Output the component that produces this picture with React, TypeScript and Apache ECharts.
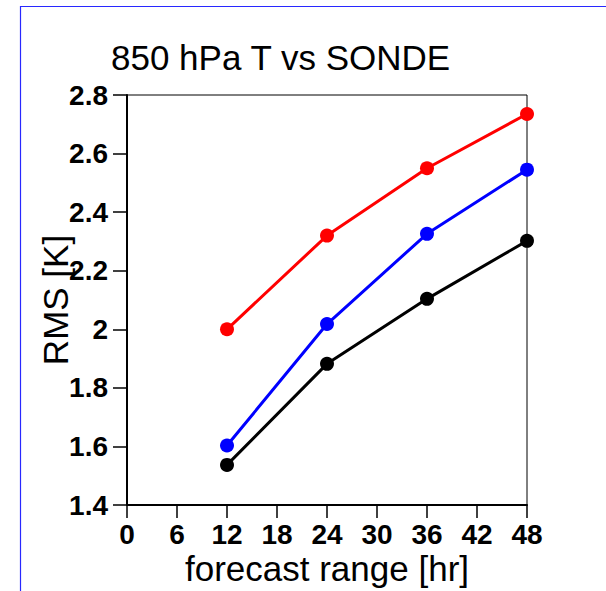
import React, { useEffect, useRef } from "react";
import * as echarts from "echarts";

const hours = [12, 24, 36, 48];
const redRMS = [2.0, 2.32, 2.55, 2.735];
const blueRMS = [1.603, 2.018, 2.326, 2.545];
const blackRMS = [1.537, 1.882, 2.104, 2.302];

const titleText = "850 hPa T vs SONDE";
const xName = "forecast range [hr]";
const yName = "RMS [K]";

const FONT = "'Liberation Sans', Arial, Helvetica, sans-serif";

export default function App() {
  const ref = useRef<HTMLDivElement>(null);
  useEffect(() => {
    if (!ref.current) return;
    const chart = echarts.init(ref.current, undefined, { renderer: "svg" });
    const mk = (vals: number[], color: string) => ({
      type: "line",
      data: hours.map((h, i) => [h, vals[i]]),
      symbol: "circle",
      symbolSize: 14,
      clip: false,
      lineStyle: { color, width: 3 },
      itemStyle: { color },
      z: 5,
    });
    chart.setOption({
      animation: false,
      backgroundColor: "#ffffff",
      textStyle: { fontFamily: FONT },
      title: {
        text: titleText,
        left: 106,
        top: 35,
        textStyle: { fontFamily: FONT, fontSize: 35, fontWeight: "normal", color: "#000" },
      },
      graphic: [
        {
          type: "rect",
          shape: { x: 20.5, y: 6.5, width: 1000, height: 1000 },
          style: { fill: "none", stroke: "#2828ff", lineWidth: 1.2 },
          silent: true,
        },
      ],
      grid: {
        left: 127,
        top: 95,
        width: 400,
        height: 410,
        show: true,
        borderColor: "#000",
        borderWidth: 1,
        backgroundColor: "transparent",
      },
      xAxis: {
        type: "value",
        min: 0,
        max: 48,
        interval: 6,
        name: xName,
        nameLocation: "middle",
        nameGap: 46,
        nameMoveOverlap: false,
        nameTextStyle: { fontFamily: FONT, fontSize: 35, color: "#000" },
        axisLine: { show: true, onZero: false, lineStyle: { color: "#000", width: 2 } },
        axisTick: { show: true, length: 13, lineStyle: { color: "#000", width: 1.5 } },
        axisLabel: { margin: 15, fontFamily: FONT, fontSize: 28, fontWeight: "bold", color: "#000" },
        splitLine: { show: false },
      },
      yAxis: {
        type: "value",
        min: 1.4,
        max: 2.8,
        interval: 0.2,
        name: yName,
        nameLocation: "middle",
        nameGap: 54,
        nameMoveOverlap: false,
        nameTextStyle: { fontFamily: FONT, fontSize: 35, color: "#000" },
        axisLine: { show: true, onZero: false, lineStyle: { color: "#000", width: 2 } },
        axisTick: { show: true, length: 14, lineStyle: { color: "#000", width: 1.5 } },
        axisLabel: { margin: 19, fontFamily: FONT, fontSize: 28, fontWeight: "bold", color: "#000" },
        splitLine: { show: false },
      },
      series: [mk(redRMS, "#ff0000"), mk(blueRMS, "#0000ff"), mk(blackRMS, "#000000")],
    });
    return () => chart.dispose();
  }, []);
  return (
    <div
      ref={ref}
      style={{ position: "fixed", left: 0, top: 0, width: 606, height: 591, background: "#fff" }}
    />
  );
}
